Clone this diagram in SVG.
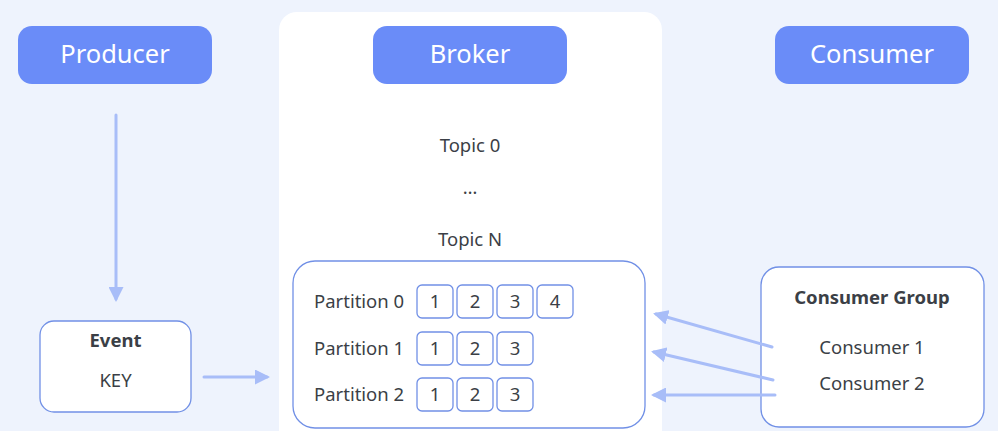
<svg xmlns="http://www.w3.org/2000/svg" width="998" height="431" viewBox="0 0 998 431">
<defs>
<style>
.hdr{fill:#6a8cf8;}
.hdrt{fill:#ffffff;font-family:"Noto Sans",sans-serif;font-size:25.5px;text-anchor:middle;}
.box{fill:#ffffff;stroke:#7190e6;stroke-width:1.3;}
.cell{fill:#ffffff;stroke:#7190e6;stroke-width:1.3;}
.t{fill:#3b3f46;font-family:"Noto Sans",sans-serif;font-size:18.5px;}
.tc{fill:#3b3f46;font-family:"Noto Sans",sans-serif;font-size:18.5px;text-anchor:middle;}
.tb{fill:#3b3f46;font-family:"Noto Sans",sans-serif;font-size:18.5px;font-weight:bold;text-anchor:middle;}
.conn{stroke:#a8bdf8;stroke-width:3;fill:none;stroke-linecap:round;}
</style>
<marker id="ah" viewBox="0 0 10 10" refX="8" refY="5" markerWidth="5" markerHeight="5" orient="auto" markerUnits="strokeWidth">
<path d="M0,0 L10,5 L0,10 z" fill="#a8bdf8"/>
</marker>
</defs>
<rect x="0" y="0" width="998" height="431" fill="#eef3fd"/>
<g id="broker-panel">
<rect x="279" y="12" width="383" height="440" rx="18" fill="#ffffff"/>
</g>
<g id="producer">
<rect class="hdr" x="18" y="26" width="194" height="58" rx="14"/>
<text class="hdrt" x="115" y="63">Producer</text>
</g>
<g id="broker">
<rect class="hdr" x="373" y="26" width="194" height="58" rx="14"/>
<text class="hdrt" x="470" y="63">Broker</text>
</g>
<g id="consumer">
<rect class="hdr" x="775" y="26" width="194" height="58" rx="14"/>
<text class="hdrt" x="872" y="63">Consumer</text>
</g>
<g id="topics">
<text class="tc" x="470" y="152">Topic 0</text>
<text class="tc" x="470" y="194">…</text>
<text class="tc" x="470" y="246">Topic N</text>
</g>
<g id="event">
<rect class="box" x="40" y="321" width="151" height="91" rx="14"/>
<text class="tb" x="115.5" y="347">Event</text>
<text class="tc" x="115.5" y="387">KEY</text>
</g>
<g id="partitions">
<rect class="box" x="293" y="261" width="352" height="167" rx="22"/>
<text class="t" x="314" y="308">Partition 0</text>
<text class="t" x="314" y="355">Partition 1</text>
<text class="t" x="314" y="401">Partition 2</text>
<rect class="cell" x="417" y="285" width="36" height="33" rx="5"/>
<rect class="cell" x="457" y="285" width="36" height="33" rx="5"/>
<rect class="cell" x="497" y="285" width="36" height="33" rx="5"/>
<rect class="cell" x="537" y="285" width="36" height="33" rx="5"/>
<text class="tc" x="435" y="308">1</text>
<text class="tc" x="475" y="308">2</text>
<text class="tc" x="515" y="308">3</text>
<text class="tc" x="555" y="308">4</text>
<rect class="cell" x="417" y="332" width="36" height="33" rx="5"/>
<rect class="cell" x="457" y="332" width="36" height="33" rx="5"/>
<rect class="cell" x="497" y="332" width="36" height="33" rx="5"/>
<text class="tc" x="435" y="355">1</text>
<text class="tc" x="475" y="355">2</text>
<text class="tc" x="515" y="355">3</text>
<rect class="cell" x="417" y="378" width="36" height="33" rx="5"/>
<rect class="cell" x="457" y="378" width="36" height="33" rx="5"/>
<rect class="cell" x="497" y="378" width="36" height="33" rx="5"/>
<text class="tc" x="435" y="401">1</text>
<text class="tc" x="475" y="401">2</text>
<text class="tc" x="515" y="401">3</text>
</g>
<g id="consumer-group">
<rect class="box" x="761" y="267" width="223" height="160" rx="18"/>
<text class="tb" x="872" y="304">Consumer Group</text>
<text class="tc" x="872" y="354">Consumer 1</text>
<text class="tc" x="872" y="390">Consumer 2</text>
</g>
<g id="connectors">
<line class="conn" x1="116" y1="115" x2="116" y2="299" marker-end="url(#ah)"/>
<line class="conn" x1="204" y1="377" x2="267" y2="377" marker-end="url(#ah)"/>
<line class="conn" x1="772" y1="347" x2="656" y2="314" marker-end="url(#ah)"/>
<line class="conn" x1="773" y1="380" x2="654" y2="352" marker-end="url(#ah)"/>
<line class="conn" x1="775" y1="395" x2="654" y2="395" marker-end="url(#ah)"/>
</g>
</svg>
